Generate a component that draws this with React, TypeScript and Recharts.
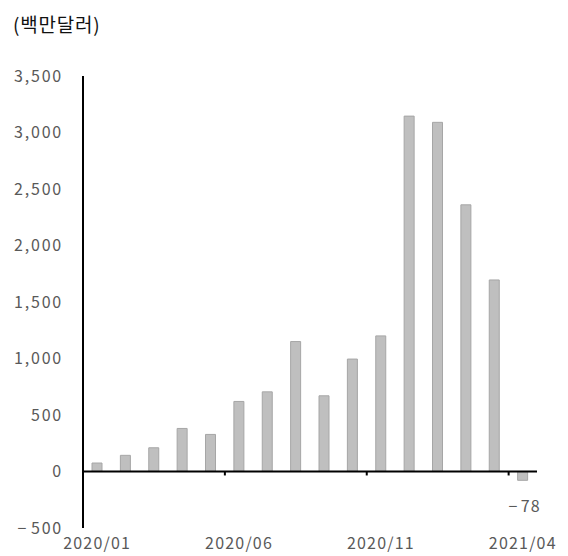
import { Bar, BarChart, LabelList, ReferenceLine, XAxis, YAxis } from "recharts";

const months = [
  "2020/01", "2020/02", "2020/03", "2020/04", "2020/05", "2020/06", "2020/07", "2020/08",
  "2020/09", "2020/10", "2020/11", "2020/12", "2021/01", "2021/02", "2021/03", "2021/04",
];
const values = [75, 143, 210, 381, 328, 620, 705, 1150, 670, 995, 1200, 3145, 3090, 2360, 1695, -78];
const yTicks = [-500, 0, 500, 1000, 1500, 2000, 2500, 3000, 3500];
const boundaryTicks = [5, 10, 15];

const data = months.map((m, i) => ({ month: m, idx: i, value: values[i] }));

const FONT = "'Noto Sans CJK KR', 'Noto Sans', sans-serif";
const TEXT = "#595959";

const fmt = (v: number) =>
  v < 0 ? "\u2212\u200a" + Math.abs(v).toLocaleString("en-US") : v.toLocaleString("en-US");

function NegLabel(props: any) {
  const { x, y, width, height, value } = props;
  if (value >= 0) return null;
  const bottom = Math.max(y, y + height);
  return (
    <text
      x={x + width / 2 + 2}
      y={bottom + 25}
      textAnchor="middle"
      dominantBaseline="central"
      fill={TEXT}
      fontSize={16}
      fontFamily={FONT}
      letterSpacing={1.2}
    >
      {fmt(value)}
    </text>
  );
}

export default function App() {
  return (
    <div style={{ position: "absolute", left: 0, top: 0, width: 568, height: 556, background: "#fff" }}>
      <div
        style={{
          position: "absolute",
          left: 13,
          top: 13,
          fontFamily: FONT,
          fontSize: 19,
          letterSpacing: 0.8,
          color: "#111",
          lineHeight: "22px",
        }}
      >
        (백만달러)
      </div>
      <BarChart
        width={568}
        height={556}
        data={data}
        margin={{ top: 76, right: 31, left: 0, bottom: 0 }}
        barCategoryGap={0}
      >
        <XAxis
          dataKey="month"
          height={28}
          interval={4}
          axisLine={false}
          tickLine={false}
          tick={{ fill: TEXT, fontSize: 16, fontFamily: FONT, letterSpacing: 1.2 }}
          tickMargin={4}
        />
        <XAxis
          xAxisId="b"
          dataKey="idx"
          type="number"
          domain={[0, months.length]}
          allowDataOverflow
          hide
        />
        <YAxis
          domain={[-500, 3500]}
          ticks={yTicks}
          width={83}
          interval={0}
          tickLine={false}
          axisLine={{ stroke: "#000", strokeWidth: 2 }}
          tick={{ fill: TEXT, fontSize: 16, fontFamily: FONT, letterSpacing: 1.8 }}
          tickMargin={14}
          tickFormatter={fmt}
        />
        <ReferenceLine y={0} stroke="#000" strokeWidth={2} />
        {boundaryTicks.map((b) => (
          <ReferenceLine
            key={b}
            xAxisId="b"
            segment={[
              { x: b, y: 0 },
              { x: b, y: -35 },
            ]}
            stroke="#000"
            strokeWidth={2}
          />
        ))}
        <Bar dataKey="value" fill="#bfbfbf" stroke="#a6a6a6" strokeWidth={1} barSize={10} isAnimationActive={false}>
          <LabelList dataKey="value" content={NegLabel} />
        </Bar>
      </BarChart>
    </div>
  );
}
